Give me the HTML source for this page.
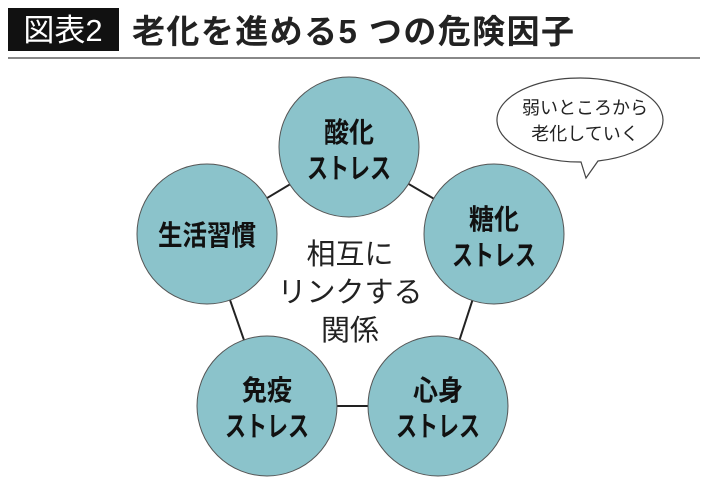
<!DOCTYPE html>
<html><head><meta charset="utf-8"><style>
body{margin:0;width:710px;height:494px;background:#fff;overflow:hidden;font-family:"Liberation Sans","Noto Sans CJK JP",sans-serif;}
</style></head><body>
<svg width="710" height="494" xmlns="http://www.w3.org/2000/svg" font-family="'Liberation Sans','Noto Sans CJK JP',sans-serif">
<rect x="8" y="8" width="111" height="43" fill="#111"/>
<text x="63" y="41" font-size="31" fill="#fff" text-anchor="middle">図表2</text>
<text x="132" y="43" font-size="33" font-weight="bold" fill="#222" textLength="442" lengthAdjust="spacing">老化を進める5 つの危険因子</text>
<line x1="8" y1="58" x2="700" y2="58" stroke="#888" stroke-width="2"/>
<g stroke="#222" stroke-width="2">
<line x1="349" y1="149" x2="207" y2="234"/>
<line x1="349" y1="149" x2="494" y2="234"/>
<line x1="207" y1="234" x2="267" y2="406"/>
<line x1="494" y1="234" x2="438" y2="406"/>
<line x1="267" y1="406" x2="438" y2="406"/>
</g>
<g fill="#8bc3cb" stroke="#555" stroke-width="1">
<circle cx="349" cy="147" r="70"/>
<circle cx="207" cy="234" r="70"/>
<circle cx="494" cy="234" r="70"/>
<circle cx="267" cy="406" r="70"/>
<circle cx="438" cy="406" r="70"/>
</g>
<g font-size="28" font-weight="bold" fill="#111" text-anchor="middle" lengthAdjust="spacingAndGlyphs">
<text x="349" y="142" textLength="50" lengthAdjust="spacingAndGlyphs">酸化</text><text x="349" y="178" textLength="84" lengthAdjust="spacingAndGlyphs">ストレス</text>
<text x="207" y="245" textLength="98" lengthAdjust="spacingAndGlyphs">生活習慣</text>
<text x="494" y="229" textLength="50" lengthAdjust="spacingAndGlyphs">糖化</text><text x="494" y="265" textLength="84" lengthAdjust="spacingAndGlyphs">ストレス</text>
<text x="267" y="400" textLength="50" lengthAdjust="spacingAndGlyphs">免疫</text><text x="267" y="436" textLength="84" lengthAdjust="spacingAndGlyphs">ストレス</text>
<text x="438" y="400" textLength="50" lengthAdjust="spacingAndGlyphs">心身</text><text x="438" y="436" textLength="84" lengthAdjust="spacingAndGlyphs">ストレス</text>
</g>
<g font-size="29" fill="#222" text-anchor="middle">
<text x="350" y="264">相互に</text>
<text x="350" y="302">リンクする</text>
<text x="350" y="340">関係</text>
</g>
<path d="M581,162 A83,42 0 1 1 598,161 L586,178 Z" fill="#fff" stroke="#444" stroke-width="1.2"/>
<g font-size="18" fill="#222" text-anchor="middle">
<text x="585" y="114">弱いところから</text>
<text x="585" y="140">老化していく</text>
</g>
</svg>
</body></html>
